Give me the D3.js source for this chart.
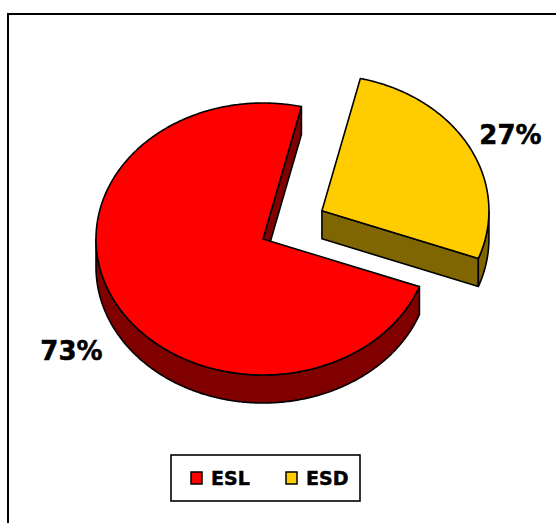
<!DOCTYPE html>
<html>
<head>
<meta charset="utf-8">
<script src="https://cdn.jsdelivr.net/npm/d3@7"></script>
<style>
  html, body { margin: 0; padding: 0; background: #fff; }
  svg { display: block; }
  text { font-family: "DejaVu Sans", Verdana, sans-serif; font-weight: bold; fill: #000;
         stroke: #000; stroke-width: 0.5; }
</style>
</head>
<body>
<svg id="chart" width="556" height="523"></svg>
<script>
// Share of each category
const categories = ["ESL", "ESD"];
const values = [73, 27];
const labels = ["73%", "27%"];
const topColors = ["#FF0000", "#FFCC00"];
const sideColors = ["#800000", "#806600"];
const explode = [0, 0.4];

const W = 556, H = 523;
const svg = d3.select("#chart");

// Chart frame (runs past the right and bottom edge of the page)
svg.append("rect")
  .attr("x", 8).attr("y", 14)
  .attr("width", 620).attr("height", 600)
  .attr("fill", "#fff").attr("stroke", "#000").attr("stroke-width", 2);

// 3D pie geometry: tilted ellipse with a vertical extrusion
const cx = 263, cy = 239, rx = 167, ry = 136, depth = 28;
const startDeg = 110.5;
// exploded slices lift slightly more than the ellipse would give
const liftY = 1.1;

const pie = d3.pie().sort(null).value(d => d.value)
  .startAngle(startDeg * Math.PI / 180)
  .endAngle(startDeg * Math.PI / 180 + 2 * Math.PI);

const data = categories.map((c, i) => ({
  name: c, value: values[i], label: labels[i],
  top: topColors[i], side: sideColors[i], explode: explode[i]
}));
const arcs = pie(data);

function pt(ox, oy, a, dy) {
  return [ox + rx * Math.sin(a), oy - ry * Math.cos(a) + (dy || 0)];
}
function arcPoints(ox, oy, a0, a1, dy) {
  const n = Math.max(2, Math.ceil(Math.abs(a1 - a0) / 0.01));
  return d3.range(n + 1).map(k => pt(ox, oy, a0 + (a1 - a0) * k / n, dy));
}
const line = d3.line();

const g = svg.append("g");

// slices further back first
const order = arcs.slice().sort((a, b) => b.data.explode - a.data.explode);

order.forEach(s => {
  const a0 = s.startAngle, a1 = s.endAngle;
  const mid = (a0 + a1) / 2;
  const ox = cx + s.data.explode * rx * Math.sin(mid);
  const oy = cy - s.data.explode * liftY * ry * Math.cos(mid);
  const sg = g.append("g");
  const style = sel => sel.attr("stroke", "#000").attr("stroke-width", 1.6)
    .attr("stroke-linejoin", "round");

  // radial cut faces that turn toward the viewer
  [[a0, Math.sin(a0) < 0], [a1, Math.sin(a1) > 0]].forEach(([a, vis]) => {
    if (!vis) return;
    const p = pt(ox, oy, a);
    const poly = [[ox, oy], p, [p[0], p[1] + depth], [ox, oy + depth]];
    sg.append("path").attr("d", line(poly) + "Z").attr("fill", s.data.side).call(style);
  });

  // outer curved wall on the front half
  for (let k = -1; k <= 1; k++) {
    const lo = Math.max(a0, Math.PI / 2 + 2 * Math.PI * k);
    const hi = Math.min(a1, 3 * Math.PI / 2 + 2 * Math.PI * k);
    if (hi > lo) {
      const topEdge = arcPoints(ox, oy, lo, hi, 0);
      const botEdge = arcPoints(ox, oy, hi, lo, depth);
      sg.append("path").attr("d", line(topEdge.concat(botEdge)) + "Z")
        .attr("fill", s.data.side).call(style);
    }
  }

  // top face
  const topPts = [[ox, oy]].concat(arcPoints(ox, oy, a0, a1, 0));
  sg.append("path").attr("d", line(topPts) + "Z").attr("fill", s.data.top).call(style);

  // percentage label outside the slice
  const lk = s.data.explode > 0 ? 1.28 : 1.3;
  const lx = ox + lk * rx * Math.sin(mid);
  const ly = oy - lk * ry * Math.cos(mid) + (Math.cos(mid) < 0 ? depth : 6);
  svg.append("text")
    .attr("x", lx).attr("y", ly).attr("dy", "0.36em")
    .attr("text-anchor", "middle")
    .attr("font-size", 26)
    .text(s.data.label);
});

// Legend
const lg = svg.append("g");
lg.append("rect")
  .attr("x", 171).attr("y", 455).attr("width", 189).attr("height", 46)
  .attr("fill", "#fff").attr("stroke", "#000").attr("stroke-width", 1.6);
const legendX = d3.scalePoint().domain(categories).range([191, 286]);
const items = lg.selectAll("g.item").data(data).join("g")
  .attr("class", "item")
  .attr("transform", d => `translate(${legendX(d.name)},472)`);
items.append("rect")
  .attr("width", 11).attr("height", 12)
  .attr("fill", d => d.top).attr("stroke", "#000").attr("stroke-width", 1.5);
items.append("text")
  .attr("x", 20).attr("y", 13)
  .attr("font-size", 19)
  .text(d => d.name);
</script>
</body>
</html>
